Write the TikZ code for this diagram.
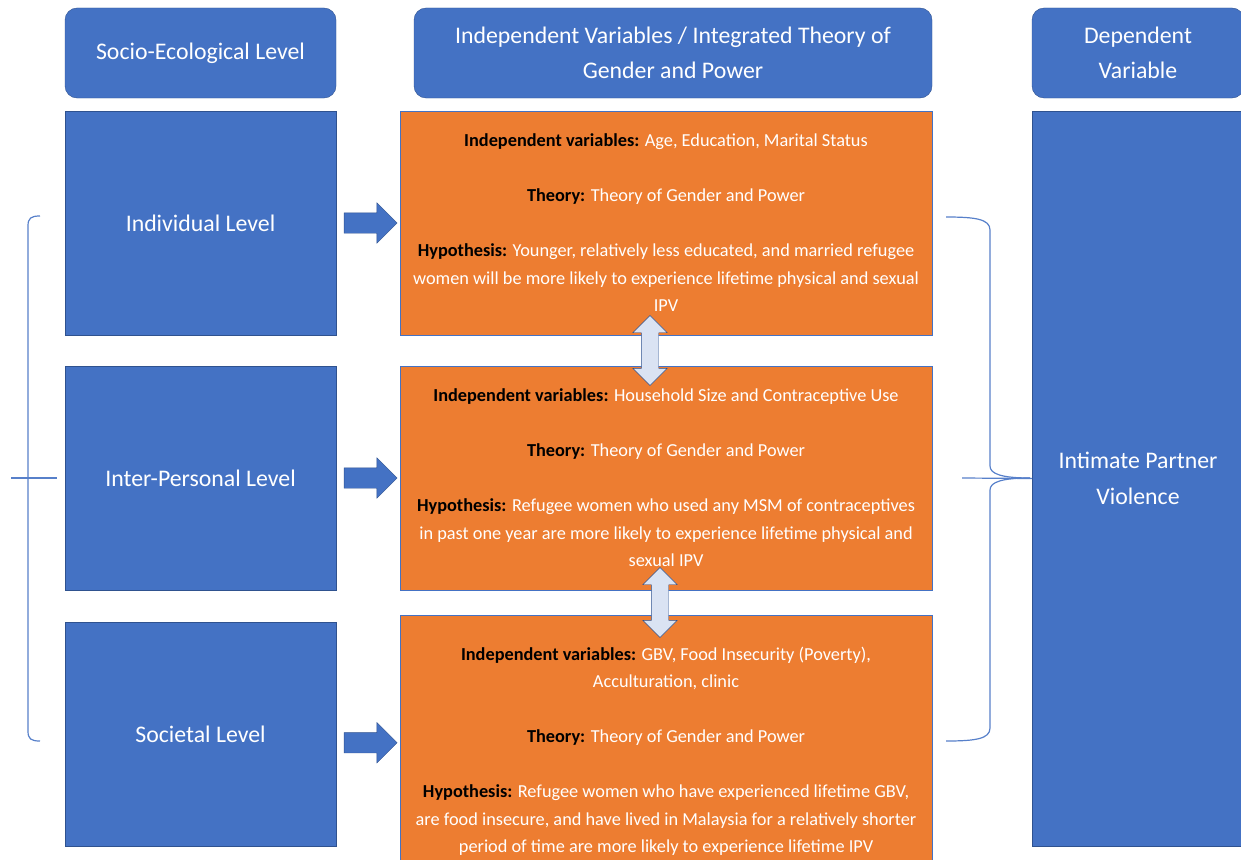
\documentclass[tikz,border=0pt]{standalone}
\usepackage{fontspec}
\setmainfont{Carlito}
\usetikzlibrary{arrows.meta,shapes.arrows,positioning,calc}
\definecolor{blueFill}{HTML}{4472C4}
\definecolor{blueEdge}{HTML}{2F528F}
\definecolor{orangeFill}{HTML}{ED7D31}
\definecolor{paleFill}{HTML}{DAE3F3}
\newcommand{\varlabel}[1]{{\bfseries\color{black}#1}}
\tikzset{
  head_box/.style={draw=blueEdge,fill=blueFill,rounded corners=12pt,inner sep=0pt,outer sep=0pt,
    minimum height=90pt,font=\fontsize{23.8}{35}\selectfont\color{white},align=center},
  level_box/.style={draw=blueEdge,fill=blueFill,inner sep=0pt,outer sep=0pt,
    minimum width=271pt,minimum height=224pt,font=\fontsize{23.8}{36}\selectfont\color{white},align=center},
  var_box/.style={draw=blueFill,fill=orangeFill,inner sep=0pt,outer sep=0pt,
    minimum width=532pt,minimum height=224pt,font=\fontsize{18.3}{27.5}\selectfont\color{white},align=center},
  push_arr/.style={single arrow,draw=blueEdge,fill=blueFill,inner sep=10pt,
    minimum height=53pt,single arrow head extend=10pt},
  link_arr/.style={double arrow,draw=blueEdge,fill=paleFill,inner sep=8.5pt,rotate=90,
    minimum height=70pt,double arrow head extend=8.5pt},
  brace_line/.style={draw=blueFill!90,line width=1.2pt},
}
\begin{document}
\begin{tikzpicture}[x=1pt,y=-1pt]
    \useasboundingbox (0,0) rectangle (1241,859);

    % column heads
    \node[head_box,minimum width=271pt] (socio) at (200.5,53) {Socio-Ecological Level};
    \node[head_box,minimum width=518pt] (indep) at (673,53) {Independent Variables / Integrated Theory of\\Gender and Power};
    \node[head_box,minimum width=212pt] (dep) at (1138,53) {Dependent\\Variable};

    \node[level_box,below=13pt of socio] (indiv) {Individual Level};
    \node[level_box,below=31pt of indiv] (inter) {Inter-Personal Level};
    \node[level_box,below=32pt of inter] (societal) {Societal Level};

    \node[var_box,right=64pt of indiv] (var_indiv) {\varlabel{Independent variables:} Age, Education, Marital Status\\[27.5pt]
      \varlabel{Theory:} Theory of Gender and Power\\[27.5pt]
      \varlabel{Hypothesis:} Younger, relatively less educated, and married refugee\\
      women will be more likely to experience lifetime physical and sexual\\IPV};
    \node[var_box,right=64pt of inter] (var_inter) {\varlabel{Independent variables:} Household Size and Contraceptive Use\\[27.5pt]
      \varlabel{Theory:} Theory of Gender and Power\\[27.5pt]
      \varlabel{Hypothesis:} Refugee women who used any MSM of contraceptives\\
      in past one year are more likely to experience lifetime physical and\\sexual IPV};
    \node[var_box,minimum height=273pt] (var_soc) at (666,751.5) {\varlabel{Independent variables:} GBV, Food Insecurity (Poverty),\\Acculturation, clinic\\[27.5pt]
      \varlabel{Theory:} Theory of Gender and Power\\[27.5pt]
      \varlabel{Hypothesis:} Refugee women who have experienced lifetime GBV,\\
      are food insecure, and have lived in Malaysia for a relatively shorter\\
      period of time are more likely to experience lifetime IPV};

    \node[level_box,minimum width=212pt,minimum height=735pt,below=13pt of dep] (ipv) {Intimate Partner\\Violence};

    % arrows
    \node[push_arr] (a1) at ($(indiv.east)!0.5!(var_indiv.west)+(-2.5,0)$) {};
    \node[push_arr] (a2) at ($(inter.east)!0.5!(var_inter.west)+(-2.5,0)$) {};
    \node[push_arr] (a3) at ($(societal.east)!0.5!(var_soc.west)+(-2.5,0)$) {};
    \node[link_arr] (d1) at ($(var_indiv.south)!0.5!(var_inter.north)+(-16,0)$) {};
    \node[link_arr] (d2) at ($(var_inter.south)!0.5!(var_soc.north)+(-6,0)$) {};

    % braces
    \draw[brace_line] (40,216) .. controls (31,216) and (28,218) .. (28,226) -- (28,731) .. controls (28,739) and (31,741) .. (40,741);
    \coordinate (lt) at (11,478);
    \coordinate (lt2) at (57,478);
    \draw[brace_line] (lt) -- (lt2);
    \draw[brace_line] (946,217) .. controls (975,217) and (990,219) .. (990,230) -- (990,466) .. controls (990,474) and (1002,478) .. (1030,478);
    \draw[brace_line] (1030,478) .. controls (1002,478) and (990,482) .. (990,490) -- (990,728) .. controls (990,739) and (975,741) .. (946,741);
    \coordinate (rt) at (962,478);
    \draw[brace_line] (rt) -- (ipv.west);
\end{tikzpicture}
\end{document}
